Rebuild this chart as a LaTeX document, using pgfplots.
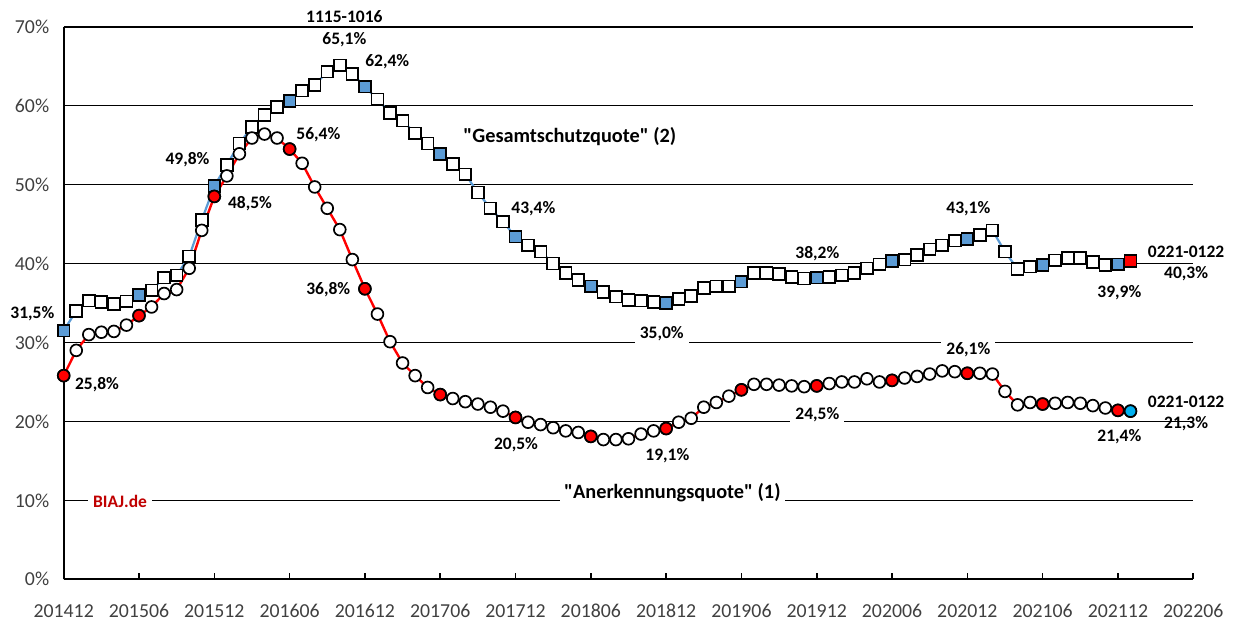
\documentclass[border=0pt]{standalone}
\usepackage{pgfplots}
\pgfplotsset{compat=1.18}
\usepackage{pgfplotstable}
\usepackage{fontspec}
\setmainfont{Carlito}
\definecolor{xlblue}{HTML}{5B9BD5}
\definecolor{xlred}{HTML}{FF0000}
\definecolor{xlcyan}{HTML}{00B0F0}
\definecolor{biaj}{HTML}{C00000}
\definecolor{ticktxt}{HTML}{404040}

\pgfplotstableread{
i g a
0 31.5 25.8
1 34.0 29.0
2 35.3 31.0
3 35.1 31.3
4 34.9 31.4
5 35.2 32.2
6 36.0 33.4
7 36.6 34.5
8 38.2 36.2
9 38.5 36.7
10 40.9 39.4
11 45.5 44.2
12 49.8 48.5
13 52.5 51.1
14 55.2 53.9
15 57.3 55.9
16 58.8 56.4
17 59.8 55.9
18 60.6 54.5
19 61.9 52.7
20 62.6 49.7
21 64.3 47.0
22 65.1 44.3
23 64.0 40.5
24 62.4 36.8
25 60.8 33.6
26 59.1 30.1
27 58.1 27.4
28 56.5 25.8
29 55.2 24.3
30 53.9 23.4
31 52.6 22.9
32 51.3 22.5
33 49.0 22.2
34 47.0 21.8
35 45.3 21.3
36 43.4 20.5
37 42.3 19.9
38 41.5 19.6
39 40.0 19.2
40 38.8 18.8
41 37.9 18.6
42 37.1 18.1
43 36.4 17.7
44 35.8 17.7
45 35.4 17.8
46 35.3 18.4
47 35.1 18.8
48 35.0 19.1
49 35.5 19.9
50 35.9 20.4
51 36.9 21.8
52 37.1 22.4
53 37.1 23.2
54 37.7 24.0
55 38.8 24.7
56 38.8 24.7
57 38.7 24.6
58 38.3 24.5
59 38.1 24.4
60 38.2 24.5
61 38.3 24.8
62 38.5 25.0
63 38.8 25.0
64 39.4 25.4
65 39.9 25.0
66 40.3 25.2
67 40.5 25.5
68 41.1 25.7
69 41.8 26.0
70 42.3 26.4
71 42.9 26.3
72 43.1 26.1
73 43.6 26.1
74 44.2 26.0
75 41.5 23.8
76 39.3 22.1
77 39.6 22.4
78 39.8 22.2
79 40.4 22.3
80 40.7 22.4
81 40.7 22.3
82 40.2 22.0
83 39.8 21.7
84 39.9 21.4
85 40.3 21.3
}\datatable

\begin{document}
\begin{tikzpicture}
\begin{axis}[
  at={(0,0)}, anchor=south west,
  scale only axis, width=1129.6pt, height=552.6pt,
  xmin=0, xmax=90, ymin=0, ymax=70,
  axis lines*=left,
  axis line style={black, line width=2pt},
  xtick={0,6,...,90},
  xticklabels={201412,201506,201512,201606,201612,201706,201712,201806,201812,201906,201912,202006,202012,202106,202112,202206},
  ytick={0,10,...,70},
  yticklabels={0\%,10\%,20\%,30\%,40\%,50\%,60\%,70\%},
  ymajorgrids, grid style={black, line width=1.6pt},
  tick align=inside, major tick length=6pt,
  ytick style={draw=none},
  xtick style={black, line width=1.6pt},
  tick label style={font=\fontsize{19.8}{22}\selectfont, text=ticktxt},
  xticklabel style={anchor=base, yshift=-38pt},
  yticklabel style={anchor=east, xshift=-11pt},
  clip=false,
]
% Gesamtschutzquote
\addplot[color=xlblue, line width=2.2pt, mark=square*, mark size=5.9pt,
  mark options={fill=white, draw=black, line width=1.7pt, solid}]
  table[x=i, y=g]{\datatable};
\addplot[only marks, mark=square*, mark size=5.9pt,
  mark options={fill=xlblue, draw=black, line width=1.7pt}]
  coordinates {(0,31.5)(6,36.0)(12,49.8)(18,60.6)(24,62.4)(30,53.9)(36,43.4)(42,37.1)(48,35.0)(54,37.7)(60,38.2)(66,40.3)(72,43.1)(78,39.8)(84,39.9)};
\addplot[only marks, mark=square*, mark size=5.9pt,
  mark options={fill=xlred, draw=black, line width=1.7pt}]
  coordinates {(85,40.3)};
% Anerkennungsquote
\addplot[color=xlred, line width=2.4pt, mark=*, mark size=5.9pt,
  mark options={fill=white, draw=black, line width=1.7pt, solid}]
  table[x=i, y=a]{\datatable};
\addplot[only marks, mark=*, mark size=5.9pt,
  mark options={fill=xlred, draw=black, line width=1.7pt}]
  coordinates {(0,25.8)(6,33.4)(12,48.5)(18,54.5)(24,36.8)(30,23.4)(36,20.5)(42,18.1)(48,19.1)(54,24.0)(60,24.5)(66,25.2)(72,26.1)(78,22.2)(84,21.4)};
\addplot[only marks, mark=*, mark size=5.9pt,
  mark options={fill=xlcyan, draw=black, line width=1.7pt}]
  coordinates {(85,21.3)};

% annotations
\begin{scope}[every node/.style={font=\fontsize{17.5}{20}\selectfont\bfseries, text=black, inner sep=2pt}]
\node at (axis cs:-2.5,33.6) {31,5\%};
\node at (axis cs:2.65,24.7) {25,8\%};
\node at (axis cs:9.86,53.1) {49,8\%};
\node at (axis cs:14.84,47.6) {48,5\%};
\node[fill=white, inner xsep=5pt] at (axis cs:22.36,71.3) {1115-1016};
\node at (axis cs:22.36,68.4) {65,1\%};
\node at (axis cs:25.78,65.57) {62,4\%};
\node at (axis cs:20.29,56.28) {56,4\%};
\node at (axis cs:21.08,36.65) {36,8\%};
\node at (axis cs:37.42,47.0) {43,4\%};
\node[font=\fontsize{20.3}{23}\selectfont\bfseries] at (axis cs:40.33,56.03) {\textquotedbl Gesamtschutzquote\textquotedbl{} (2)};
\node[fill=white, inner xsep=5pt] at (axis cs:47.65,31.16) {35,0\%};
\node[fill=white, inner xsep=5pt] at (axis cs:60.05,41.2) {38,2\%};
\node at (axis cs:72.08,47.0) {43,1\%};
\node at (axis cs:89.43,41.42) {0221-0122};
\node at (axis cs:89.43,38.67) {40,3\%};
\node at (axis cs:84.11,36.3) {39,9\%};
\node[fill=white, inner xsep=5pt] at (axis cs:72.08,29.14) {26,1\%};
\node at (axis cs:89.43,22.5) {0221-0122};
\node at (axis cs:89.43,19.67) {21,3\%};
\node at (axis cs:84.11,18.06) {21,4\%};
\node[fill=white, inner xsep=5pt] at (axis cs:60.05,20.9) {24,5\%};
\node at (axis cs:48.1,15.62) {19,1\%};
\node at (axis cs:36.04,17.0) {20,5\%};
\node[fill=white, inner xsep=4pt, font=\fontsize{20.3}{23}\selectfont\bfseries] at (axis cs:48.5,10.97) {\textquotedbl Anerkennungsquote\textquotedbl{} (1)};
\node[fill=white, inner xsep=5pt, text=biaj] at (axis cs:4.49,9.83) {BIAJ.de};
\end{scope}
\end{axis}
\pgfresetboundingbox
\useasboundingbox (-63.7pt,-41.7pt) rectangle (1170.3pt,579.3pt);
\end{tikzpicture}
\end{document}
